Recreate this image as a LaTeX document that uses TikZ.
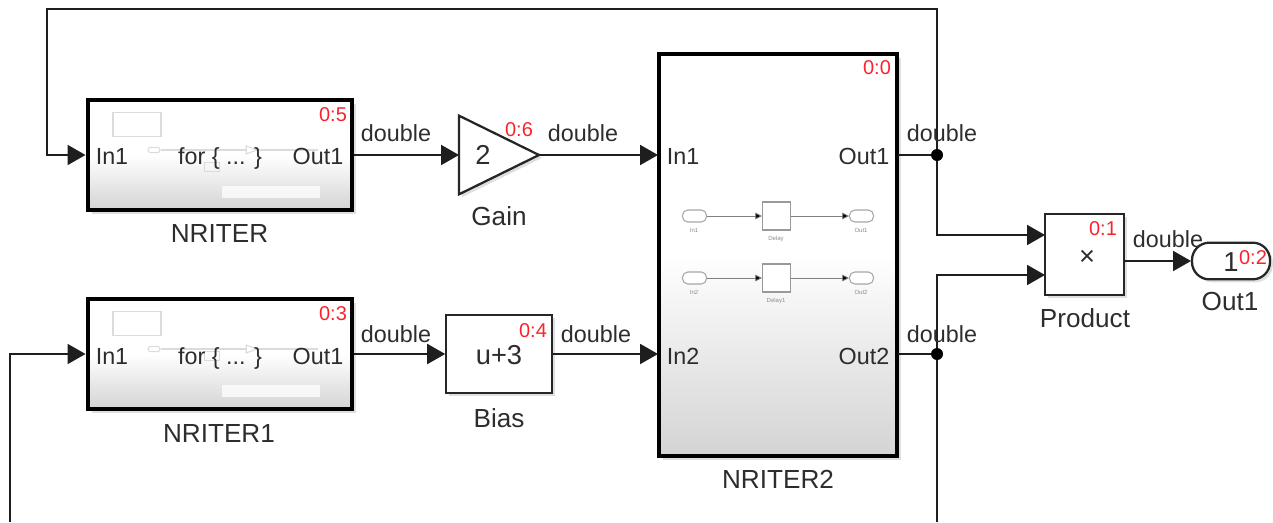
\documentclass[tikz,border=0pt]{standalone}
\usepackage{fontspec}
\setmainfont{Liberation Sans}
\usetikzlibrary{shapes.geometric,arrows.meta,shadows,positioning}
\definecolor{idred}{RGB}{250,35,45}
\definecolor{wirecol}{RGB}{30,30,30}
\definecolor{txtcol}{RGB}{45,45,45}

\begin{document}
\begin{tikzpicture}[x=0.75pt,y=-0.75pt,
      block/.style={rectangle, draw=black, line width=3pt, minimum width=198pt, top color=white, bottom color=black!17, middle color=white, drop shadow={shadow xshift=3pt,shadow yshift=-3pt,opacity=.25}},
      plainblock/.style={rectangle, draw=black!85, line width=1.7pt, fill=white, drop shadow={shadow xshift=2.2pt,shadow yshift=-2.2pt,opacity=.25}},
      lbl/.style={anchor=base, inner sep=0pt, text=txtcol, font=\fontsize{17.5}{20}\selectfont},
      sig/.style={lbl},
      val/.style={lbl, font=\fontsize{20.5}{24}\selectfont},
      blockname/.style={lbl, font=\fontsize{19.6}{22}\selectfont},
      tag/.style={lbl, text=idred, font=\fontsize{15}{18}\selectfont},
      smalltxt/.style={lbl, text=black!45, font=\fontsize{4.5}{5}\selectfont},
      ghost/.style={draw=black!14, line width=.8pt},
      mini/.style={rectangle, draw=black!40, line width=.8pt, fill=white, inner sep=0pt, minimum width=21pt, minimum height=21pt},
      miniport/.style={rectangle, rounded corners=4pt, draw=black!35, line width=.8pt, fill=white, inner sep=0pt, minimum width=18pt, minimum height=9pt},
      minifeil/.style={draw=black!50, line width=.6pt, -{Triangle[length=5pt,width=5pt]}},
      pfeil/.style={draw=wirecol, line width=1.5pt, -{Triangle[length=13.5pt,width=15pt]}},
      wire/.style={draw=wirecol, line width=1.5pt},
      junction/.style={circle, fill=black, inner sep=0pt, minimum size=9pt}]

\useasboundingbox (0,0) rectangle (1273,522);

% blocks
\node[block,minimum height=82pt] (nriter) at (219.5,155) {};
\node[block,minimum height=82pt] (nriter1) at (219.5,354) {};
\node[block,minimum width=179pt,minimum height=301pt] (nriter2) at (778,255) {};
\node[plainblock,isosceles triangle,isosceles triangle stretches,shape border rotate=0,anchor=lower side,outer sep=0pt,inner sep=0pt,minimum width=59pt,minimum height=60pt] (gain) at (459,155) {};
\node[plainblock,minimum width=79pt,minimum height=59pt] (bias) at (499,354) {};
\node[plainblock,minimum width=59pt,minimum height=61pt] (product) at (1084.5,254.5) {};
\node[plainblock,rounded corners=13pt,minimum width=58.5pt,minimum height=27.5pt] (out1) at (1231,261) {};

% faint contents of the for blocks
\node[rectangle,ghost,minimum width=36pt,minimum height=18pt] (frame) at (137,124.5) {};
\node[rectangle,ghost,rounded corners=2pt,minimum width=9pt,minimum height=4pt,inner sep=0pt] (port) at (154,150) {};
\node[rectangle,ghost,minimum width=11pt,minimum height=7pt,inner sep=0pt] (loop) at (212,167) {};
\node[isosceles triangle,ghost,fill=white,inner sep=0pt,minimum width=6pt,minimum height=8pt,isosceles triangle stretches] (tri) at (249,150) {};
\node[rectangle,fill=white,opacity=.75,minimum width=73pt,minimum height=9pt,inner sep=0pt] (bar) at (271,192) {};
\draw[ghost] (port) -- (tri);
\draw[ghost] (tri) -- (318,150);
\node[rectangle,ghost,minimum width=36pt,minimum height=18pt] (frame1) at (137,323.5) {};
\node[rectangle,ghost,rounded corners=2pt,minimum width=9pt,minimum height=4pt,inner sep=0pt] (port1) at (154,349) {};
\node[rectangle,ghost,minimum width=11pt,minimum height=7pt,inner sep=0pt] (loop1) at (212,356) {};
\node[isosceles triangle,ghost,fill=white,inner sep=0pt,minimum width=6pt,minimum height=8pt,isosceles triangle stretches] (tri1) at (249,349) {};
\node[rectangle,fill=white,opacity=.75,minimum width=73pt,minimum height=9pt,inner sep=0pt] (bar1) at (271,391) {};
\draw[ghost] (port1) -- (tri1);
\draw[ghost] (tri1) -- (318,349);

% contents of NRITER2
\node[miniport] (min1) at (694.5,216) {};
\node[mini] (delay) at (776.5,216) {};
\node[miniport] (mout1) at (861.5,216) {};
\node[miniport] (min2) at (694.5,278) {};
\node[mini] (delay1) at (776.5,278) {};
\node[miniport] (mout2) at (861.5,278) {};
\draw[minifeil] (min1) edge (delay);
\draw[minifeil] (delay) edge (mout1);
\draw[minifeil] (min2) edge (delay1);
\draw[minifeil] (delay1) edge (mout2);
\node[smalltxt] (tin1) at (694,232) {In1};
\node[smalltxt] (tdelay) at (776,240) {Delay};
\node[smalltxt] (tout1) at (861,232) {Out1};
\node[smalltxt] (tin2) at (694,294) {In2};
\node[smalltxt] (tdelay1) at (776,302) {Delay1};
\node[smalltxt] (tout2) at (861,294) {Out2};

% free ends and corners
\coordinate (in1) at (658,155);
\coordinate (in2) at (658,354);
\coordinate (o1) at (898,155);
\coordinate (o2) at (898,354);
\coordinate (p1) at (1045,235);
\coordinate (p2) at (1045,275);
\coordinate (c1) at (937,235);
\coordinate (c2) at (937,275);
\coordinate (top1) at (937,9);
\coordinate (top2) at (47,9);
\coordinate (top3) at (47,155);
\coordinate (bot1) at (937,522);
\coordinate (bot2) at (10,522);
\coordinate (bot3) at (10,354);
\coordinate (pout) at (1124,261);
\coordinate (oin) at (1191,261);

\node[junction] (j1) at (937,155) {};
\node[junction] (j2) at (937,354) {};

% signals
\draw[pfeil] (nriter) -- (gain.lower side);
\draw[pfeil] (gain.apex) -- (in1);
\draw[pfeil] (nriter1) -- (bias);
\draw[pfeil] (bias) -- (in2);
\draw[wire] (o1) -- (j1);
\draw[wire] (o2) -- (j2);
\draw[pfeil] (j1) -- (c1) -- (p1);
\draw[pfeil] (j2) -- (c2) -- (p2);
\draw[pfeil] (j1) -- (top1) -- (top2) -- (top3) -- (nriter.west);
\draw[wire] (j2) -- (bot1);
\draw[pfeil] (bot2) -- (bot3) -- (nriter1.west);
\draw[pfeil] (pout) -- (oin);

% texts of the blocks
\node[lbl] (nin) at (112,164) {In1};
\node[lbl] (nfor) at (220,164) {for \{ ... \}};
\node[lbl] (nout) at (318,164) {Out1};
\node[tag] (id5) at (333,121) {0:5};
\node[blockname] (nname) at (219.5,242) {NRITER};
\node[lbl] (n1in) at (112,364) {In1};
\node[lbl] (n1for) at (220,364) {for \{ ... \}};
\node[lbl] (n1out) at (318,364) {Out1};
\node[tag] (id3) at (333,320) {0:3};
\node[blockname] (n1name) at (219,442) {NRITER1};
\node[val] (gval) at (483,164) {2};
\node[tag] (id6) at (519,136) {0:6};
\node[blockname] (gname) at (499,225) {Gain};
\node[val] (bval) at (499,364) {u+3};
\node[tag] (id4) at (533,337) {0:4};
\node[blockname] (bname) at (499,427) {Bias};
\node[lbl] (n2in1) at (683,164) {In1};
\node[lbl] (n2out1) at (864,164) {Out1};
\node[lbl] (n2in2) at (683,364) {In2};
\node[lbl] (n2out2) at (864,364) {Out2};
\node[tag] (id0) at (877,74) {0:0};
\node[blockname] (n2name) at (778,488) {NRITER2};
\node[val] (pval) at (1087,265) {×};
\node[tag] (id1) at (1103,235) {0:1};
\node[blockname] (pname) at (1085,327) {Product};
\node[val] (oval) at (1231,271) {1};
\node[tag] (id2) at (1253,264) {0:2};
\node[blockname] (oname) at (1230,310) {Out1};

% signal types
\node[sig] (s1) at (396,141) {double};
\node[sig] (s2) at (583,141) {double};
\node[sig] (s3) at (942,141) {double};
\node[sig] (s4) at (396,342) {double};
\node[sig] (s5) at (596,342) {double};
\node[sig] (s6) at (942,342) {double};
\node[sig] (s7) at (1168,247) {double};

\end{tikzpicture}
\end{document}
